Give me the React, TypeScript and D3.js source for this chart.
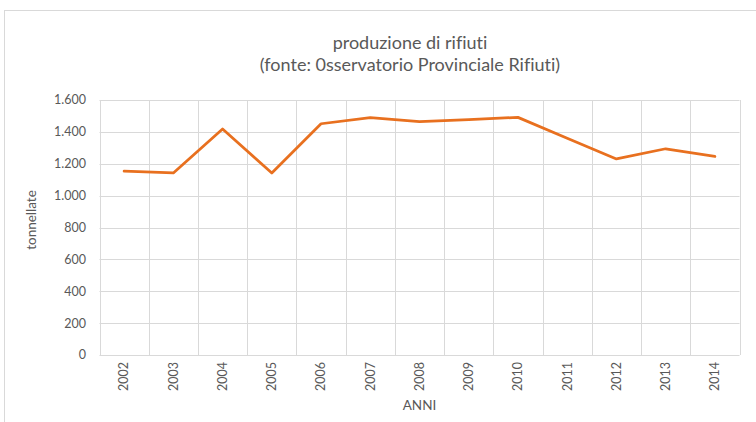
import { useRef, useEffect } from 'react'
import * as d3 from 'd3'

const years = ['2002', '2003', '2004', '2005', '2006', '2007', '2008', '2009', '2010', '2011', '2012', '2013', '2014']
const tonnes = [1154, 1142, 1418, 1142, 1451, 1489, 1464, 1477, 1491, 1360, 1230, 1294, 1246]
const yTicks = [0, 200, 400, 600, 800, 1000, 1200, 1400, 1600]
const titleLines = ['produzione di rifiuti', '(fonte: 0sservatorio Provinciale Rifiuti)']

const WIDTH = 756
const HEIGHT = 422

export default function App() {
  const svgRef = useRef<SVGSVGElement>(null)

  useEffect(() => {
    if (!svgRef.current) return
    const svg = d3.select(svgRef.current)
    svg.selectAll('*').remove()

    const font = 'Lato, "Open Sans", sans-serif'
    const textColor = '#595959'
    const gridColor = '#d9d9d9'

    // plot area
    const left = 99.5
    const right = 739.5
    const top = 100
    const bottom = 355

    const x = d3.scaleBand<string>().domain(years).range([left, right])
    const y = d3.scaleLinear().domain([0, 1600]).range([bottom, top])

    const it = d3.formatLocale({ decimal: ',', thousands: '.', grouping: [3], currency: ['€', ''] })
    const fmt = it.format(',d')

    // chart border
    svg.append('rect')
      .attr('x', 4.5)
      .attr('y', 10.5)
      .attr('width', WIDTH + 20)
      .attr('height', HEIGHT + 20)
      .style('fill', 'white')
      .style('stroke', gridColor)

    // title
    svg.append('g')
      .selectAll('text')
      .data(titleLines)
      .enter()
      .append('text')
      .attr('x', 410)
      .attr('y', (d, i) => 49 + i * 22)
      .attr('text-anchor', 'middle')
      .style('font-family', font)
      .style('font-size', '18px')
      .style('font-variant-ligatures', 'none')
      .style('fill', textColor)
      .text(d => d)

    // horizontal gridlines
    svg.append('g')
      .selectAll('line')
      .data(yTicks)
      .enter()
      .append('line')
      .attr('x1', left)
      .attr('x2', right)
      .attr('y1', d => Math.round(y(d)) + 0.5)
      .attr('y2', d => Math.round(y(d)) + 0.5)
      .style('stroke', gridColor)
      .style('stroke-width', 1)

    // vertical gridlines at category boundaries
    const bounds = years.map(d => x(d) as number).concat([right])
    svg.append('g')
      .selectAll('line')
      .data(bounds)
      .enter()
      .append('line')
      .attr('x1', d => Math.round(d) + 0.5)
      .attr('x2', d => Math.round(d) + 0.5)
      .attr('y1', top)
      .attr('y2', bottom)
      .style('stroke', gridColor)
      .style('stroke-width', 1)

    // y tick labels
    svg.append('g')
      .selectAll('text')
      .data(yTicks)
      .enter()
      .append('text')
      .attr('x', 86)
      .attr('y', d => y(d))
      .attr('dy', '0.35em')
      .attr('text-anchor', 'end')
      .style('font-family', font)
      .style('font-size', '12.5px')
      .style('fill', textColor)
      .text(d => fmt(d))

    // x tick labels (rotated)
    svg.append('g')
      .selectAll('text')
      .data(years)
      .enter()
      .append('text')
      .attr('transform', d => `translate(${(x(d) as number) + x.bandwidth() / 2},${bottom + 7}) rotate(-90)`)
      .attr('dy', '0.35em')
      .attr('text-anchor', 'end')
      .style('font-family', font)
      .style('font-size', '12.5px')
      .style('fill', textColor)
      .text(d => d)

    // axis titles
    svg.append('text')
      .attr('x', (left + right) / 2)
      .attr('y', 410)
      .attr('text-anchor', 'middle')
      .style('font-family', font)
      .style('font-size', '13.5px')
      .style('fill', textColor)
      .text('ANNI')

    svg.append('text')
      .attr('transform', `translate(36,220) rotate(-90)`)
      .attr('text-anchor', 'middle')
      .style('font-family', font)
      .style('font-size', '13.5px')
      .style('fill', textColor)
      .text('tonnellate')

    // the line
    const line = d3.line<number>()
      .x((d, i) => (x(years[i]) as number) + x.bandwidth() / 2)
      .y(d => y(d))

    svg.append('path')
      .datum(tonnes)
      .attr('d', line)
      .style('fill', 'none')
      .style('stroke', '#E8701F')
      .style('stroke-width', 2.75)
      .style('stroke-linejoin', 'round')
      .style('stroke-linecap', 'round')
  }, [])

  return (
    <svg
      ref={svgRef}
      width={WIDTH}
      height={HEIGHT}
      style={{ position: 'absolute', left: 0, top: 0, background: 'white' }}
    />
  )
}
